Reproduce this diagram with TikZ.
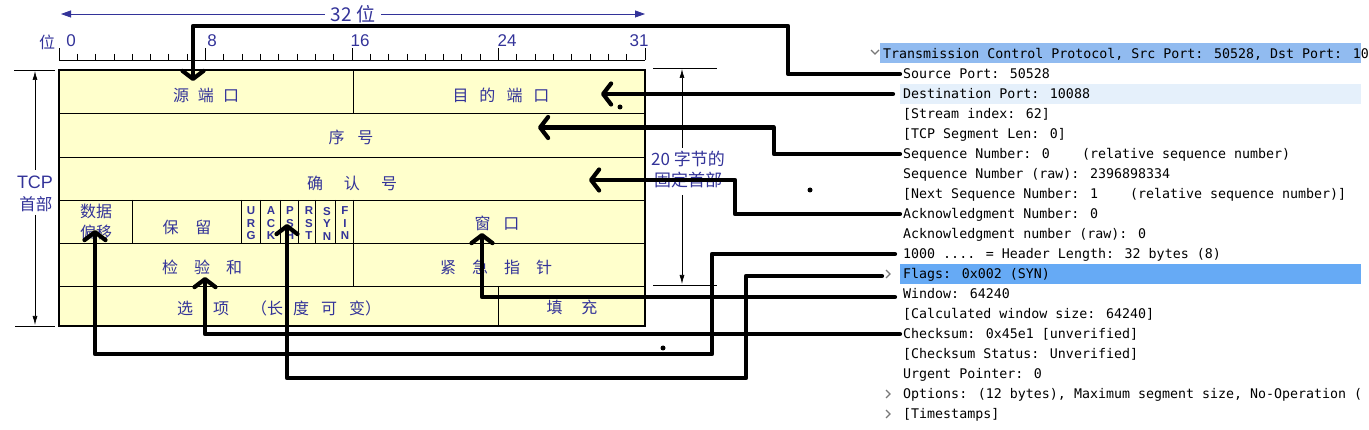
\documentclass[tikz,border=0pt]{standalone}
\usepackage{fontspec}
\setmainfont{Liberation Sans}
\newfontfamily\cjk{Noto Sans CJK SC}
\newfontfamily\mono{DejaVu Sans Mono}
\usetikzlibrary{arrows.meta}
\definecolor{lblue}{RGB}{51,51,153}
\definecolor{cellfill}{RGB}{255,255,204}
\definecolor{hlhead}{RGB}{145,187,240}
\definecolor{hlsel}{RGB}{102,170,245}
\definecolor{hllight}{RGB}{229,240,251}
\definecolor{chev}{RGB}{120,120,120}
\begin{document}
\begin{tikzpicture}[x=1pt,y=-1pt,
  conn/.style={line width=4.2pt,line join=round,line cap=round},
  barb/.style={-{Straight Barb[length=8pt,width=21pt,round]}},
  cell/.style={font=\cjk\fontsize{16}{21}\selectfont,text=lblue,inner sep=0pt},
  flag/.style={font=\bfseries\fontsize{11.5}{12.5}\selectfont,text=lblue,align=center,inner sep=0pt},
  rown/.style={anchor=west,inner sep=0pt,font=\mono\fontsize{13.3}{16}\selectfont,text height=10pt,text depth=0pt},
  rul/.style={font=\fontsize{17}{19}\selectfont,text=lblue,inner sep=0pt},
  dim/.style={line width=0.7pt,-{Latex[length=9pt,width=5pt]}},
  topdim/.style={line width=0.8pt,draw=lblue,{Triangle[length=10pt,width=7pt]}-{Triangle[length=10pt,width=7pt]}},
  chv/.style={draw=chev,line width=1.1pt}
]
\useasboundingbox (0,0) rectangle (1369,430);

% ---------- top 32-bit arrow ----------
\draw[topdim] (61,14) -- (645,14) node[midway,fill=white,inner xsep=6pt,inner ysep=0pt,text=lblue,font=\cjk\fontsize{19}{21}\selectfont] (w32) {32 位};

% ---------- ruler ----------
\draw[line width=0.8pt] (59,60) -- (645,60);
\foreach \i in {0,...,32} {\draw[line width=0.8pt] (59+\i*18.3125,54) -- (59+\i*18.3125,60);}
\foreach \i in {0,8,16,24,32} {\draw[line width=0.8pt] (59+\i*18.3125,48) -- (59+\i*18.3125,60);}
\node[rul,font=\cjk\fontsize{16}{18}\selectfont] (lwei) at (47,42) {位};
\node[rul] (l0) at (71,41) {0};
\node[rul] (l8) at (212,41) {8};
\node[rul] (l16) at (360,41) {16};
\node[rul] (l24) at (507,41) {24};
\node[rul] (l31) at (639,41) {31};

% ---------- table ----------
\fill[cellfill] (59,70) rectangle (645,326);
\foreach \y in {113,157,200,243,286} {\draw[line width=0.8pt] (59,\y) -- (645,\y);}
\draw[line width=0.8pt] (353,70) -- (353,113);
\foreach \x in {132.5,241.7,260.7,280,298.7,315.7,335.7,353.3} {\draw[line width=0.8pt] (\x,200) -- (\x,243);}
\draw[line width=0.8pt] (353,243) -- (353,286);
\draw[line width=0.8pt] (498,286) -- (498,326);
\draw[line width=2.2pt] (59,70) rectangle (645,326);

\node[cell] (src) at (206,95) {源\hspace{9pt}端\hspace{9pt}口};
\node[cell] (dst) at (501,95) {目\hspace{11pt}的\hspace{11pt}端\hspace{11pt}口};
\node[cell] (seq) at (351,137) {序\hspace{13pt}号};
\node[cell] (ack) at (352,183) {确\hspace{21pt}认\hspace{21pt}号};
\node[cell,align=center] (off) at (96,222) {数据\\偏移};
\node[cell] (res) at (187,227) {保\hspace{17pt}留};
\node[flag] (urg) at (251,223.5) {U\\R\\G};
\node[flag] (ackf) at (271,223.5) {A\\C\\K};
\node[flag] (psh) at (290,223.5) {P\\S\\H};
\node[flag] (rst) at (309,223.5) {R\\S\\T};
\node[flag] (syn) at (327,223.5) {S\\Y\\N};
\node[flag] (fin) at (345,223.5) {F\\I\\N};
\node[cell] (win) at (497,223) {窗\hspace{13pt}口};
\node[cell] (cks) at (202,267) {检\hspace{16pt}验\hspace{16pt}和};
\node[cell] (urp) at (496,267) {紧\hspace{16pt}急\hspace{16pt}指\hspace{16pt}针};
\node[cell] (opt) at (279,308) {选\hspace{20pt}项\hspace{22pt}（长\hspace{10pt}度\hspace{12pt}可\hspace{12pt}变）};
\node[cell] (pad) at (572,307) {填\hspace{19pt}充};

% ---------- left dimension ----------
\draw[line width=0.8pt] (14,70) -- (55,70);
\draw[line width=0.8pt] (15,326) -- (55,326);
\draw[dim] (35,170) -- (35,71);
\draw[dim] (35,215) -- (35,325);
\node[text=lblue,inner sep=0pt,font=\fontsize{18}{20}\selectfont] (tcp) at (35,182) {TCP};
\node[cell,font=\cjk\fontsize{16.5}{18}\selectfont] (shoubu) at (36,204) {首部};

% ---------- right dimension ----------
\draw[line width=0.8pt] (653,68) -- (717,68);
\draw[line width=0.8pt] (653,285) -- (717,285);
\draw[dim] (682,148) -- (682,69);
\draw[dim] (682,195) -- (682,284);
\node[cell,font=\cjk\fontsize{17}{19}\selectfont] (fix1) at (688,159) {20 字节的};
\node[cell,font=\cjk\fontsize{17}{19}\selectfont] (fix2) at (688,180) {固定首部};

% ---------- Wireshark panel ----------
\fill[hlhead] (880,43.5) rectangle (1361,63.5);
\fill[hllight] (900,84) rectangle (1361,104);
\fill[hlsel] (900,264) rectangle (1361,284);
\node[rown] (r0) at (883,54) {Transmission Control Protocol, Src Port: 50528, Dst Port: 10};
\node[rown] (r1) at (903,74) {Source Port: 50528};
\node[rown] (r2) at (903,94) {Destination Port: 10088};
\node[rown] (r3) at (903,114) {[Stream index: 62]};
\node[rown] (r4) at (903,134) {[TCP Segment Len: 0]};
\node[rown] (r5) at (903,154) {Sequence Number: 0~~~~(relative sequence number)};
\node[rown] (r6) at (903,174) {Sequence Number (raw): 2396898334};
\node[rown] (r7) at (903,194) {[Next Sequence Number: 1~~~~(relative sequence number)]};
\node[rown] (r8) at (903,214) {Acknowledgment Number: 0};
\node[rown] (r9) at (903,234) {Acknowledgment number (raw): 0};
\node[rown] (r10) at (903,254) {1000 .... = Header Length: 32 bytes (8)};
\node[rown] (r11) at (903,274) {Flags: 0x002 (SYN)};
\node[rown] (r12) at (903,294) {Window: 64240};
\node[rown] (r13) at (903,314) {[Calculated window size: 64240]};
\node[rown] (r14) at (903,334) {Checksum: 0x45e1 [unverified]};
\node[rown] (r15) at (903,354) {[Checksum Status: Unverified]};
\node[rown] (r16) at (903,374) {Urgent Pointer: 0};
\node[rown] (r17) at (903,394) {Options: (12 bytes), Maximum segment size, No-Operation (};
\node[rown] (r18) at (903,414) {[Timestamps]};
\draw[chv] (871,50) -- (875,54) -- (879,50);
\foreach \yy in {274,394,414} {\draw[chv] (886,\yy-4) -- (890,\yy) -- (886,\yy+4);}

% ---------- connectors ----------
\coordinate (srcT) at (193,81);
\coordinate (dstT) at (601,94);
\coordinate (seqT) at (538,127.5);
\coordinate (ackT) at (589,180);
\coordinate (offT) at (95,230);
\coordinate (flT) at (287,224);
\coordinate (winT) at (482,233);
\coordinate (cksT) at (205,277);
\draw[conn,barb] ([xshift=-3pt]r1.west) -| (788,26) -| (srcT);
\draw[conn,barb] ([xshift=-10pt]r2.west) -- (dstT);
\draw[conn,barb] ([xshift=-3pt]r5.west) -| (774,127.5) -- (seqT);
\draw[conn,barb] ([xshift=-3pt]r8.west) -| (735,180) -- (ackT);
\draw[conn,barb] ([xshift=-8pt]r10.west) -| (712,354) -| (offT);
\draw[conn,barb] ([xshift=-21pt,yshift=-2pt]r11.west) -| (746,378) -| (flT);
\draw[conn,barb] ([xshift=-8pt,yshift=-3pt]r12.west) -| (winT);
\draw[conn,barb] ([xshift=-3pt]r14.west) -| (cksT);

% ---------- stray dots ----------
\fill (620,107) circle (2.5);
\fill (810,190) circle (2.5);
\fill (663,348) circle (2.5);
\end{tikzpicture}
\end{document}
